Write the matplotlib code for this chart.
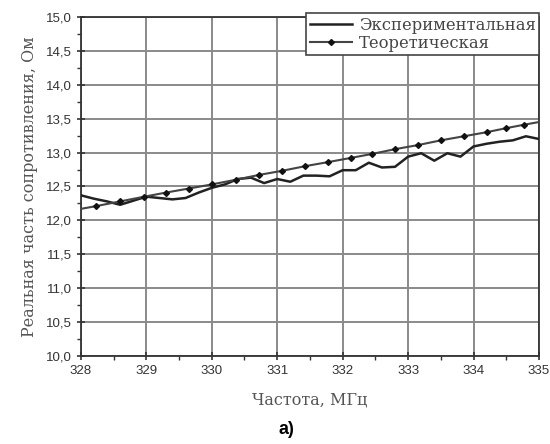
import matplotlib
matplotlib.use("Agg")
import matplotlib.pyplot as plt
from matplotlib.ticker import MultipleLocator, FuncFormatter

exp_freq = [328.0, 328.2, 328.4, 328.6, 328.8, 329.0, 329.2, 329.4, 329.6, 329.8,
            330.0, 330.2, 330.4, 330.6, 330.8, 331.0, 331.2, 331.4, 331.6, 331.8,
            332.0, 332.2, 332.4, 332.6, 332.8, 333.0, 333.2, 333.4, 333.6, 333.8,
            334.0, 334.2, 334.4, 334.6, 334.8, 335.0]
exp_res = [12.37, 12.32, 12.28, 12.23, 12.29, 12.35, 12.33, 12.31, 12.33, 12.41,
           12.48, 12.53, 12.61, 12.63, 12.55, 12.61, 12.57, 12.66, 12.66, 12.65,
           12.74, 12.74, 12.85, 12.78, 12.79, 12.94, 12.99, 12.88, 12.99, 12.94,
           13.09, 13.13, 13.16, 13.18, 13.24, 13.20]

# Theoretical curve: end points plus marked points
th_freq = [328.0, 328.23, 328.6, 328.97, 329.3, 329.65, 330.0, 330.37, 330.72, 331.07,
           331.43, 331.78, 332.12, 332.45, 332.8, 333.15, 333.5, 333.85, 334.2,
           334.5, 334.77, 335.0]
th_res = [12.17, 12.21, 12.28, 12.35, 12.41, 12.47, 12.53, 12.60, 12.67, 12.73,
          12.80, 12.86, 12.92, 12.98, 13.05, 13.11, 13.18, 13.24, 13.30,
          13.36, 13.41, 13.45]

label_exp = "Экспериментальная"
label_th = "Теоретическая"
xlabel = "Частота, МГц"
ylabel = "Реальная часть сопротивления, Ом"

fig = plt.figure(figsize=(5.5, 4.44), dpi=100)
ax = fig.add_axes([0.147, 0.198, 0.833, 0.764])

ax.plot(exp_freq, exp_res, color="#222222", lw=1.8, label=label_exp, zorder=3)
ax.plot(th_freq, th_res, color="#444444", lw=1.5, marker="D", markersize=3,
        markevery=slice(1, -1), markerfacecolor="#111111", markeredgecolor="#111111",
        label=label_th, zorder=3)

ax.set_xlim(328, 335)
ax.set_ylim(10, 15)
ax.xaxis.set_major_locator(MultipleLocator(1))
ax.xaxis.set_minor_locator(MultipleLocator(0.5))
ax.yaxis.set_major_locator(MultipleLocator(0.5))
ax.yaxis.set_minor_locator(MultipleLocator(0.25))
ax.yaxis.set_major_formatter(FuncFormatter(lambda v, p: f"{v:.1f}".replace(".", ",")))
ax.xaxis.set_major_formatter(FuncFormatter(lambda v, p: f"{v:.0f}"))

ax.grid(True, which="major", color="#8a8a8a", lw=1.4)
ax.tick_params(which="major", direction="inout", length=6, width=1.2, color="#333333",
               labelsize=9.5, labelcolor="#333333")
ax.tick_params(which="minor", direction="out", length=3, width=1, color="#333333")
for tl in ax.get_xticklabels() + ax.get_yticklabels():
    tl.set_family("Liberation Sans")
for s in ax.spines.values():
    s.set_color("#333333")
    s.set_linewidth(1.3)

ax.set_xlabel(xlabel, family="DejaVu Serif", fontsize=11.5, color="#555555", labelpad=10)
ax.set_ylabel(ylabel, family="DejaVu Serif", fontsize=11.5, color="#555555", labelpad=6)

leg = ax.legend(loc="upper right", bbox_to_anchor=(1.0, 1.01), fancybox=False,
                framealpha=1, edgecolor="#444444", borderpad=0.2, labelspacing=0.05,
                handlelength=2.6, handletextpad=0.4, borderaxespad=0.0,
                prop={"family": "DejaVu Serif", "size": 11.8})
leg.get_frame().set_linewidth(1.2)
for t in leg.get_texts():
    t.set_color("#444444")

fig.text(0.52, 0.033, "а)", family="Liberation Sans", fontweight="bold",
         fontsize=13, ha="center", va="center")

fig.savefig("out.png", dpi=100)
